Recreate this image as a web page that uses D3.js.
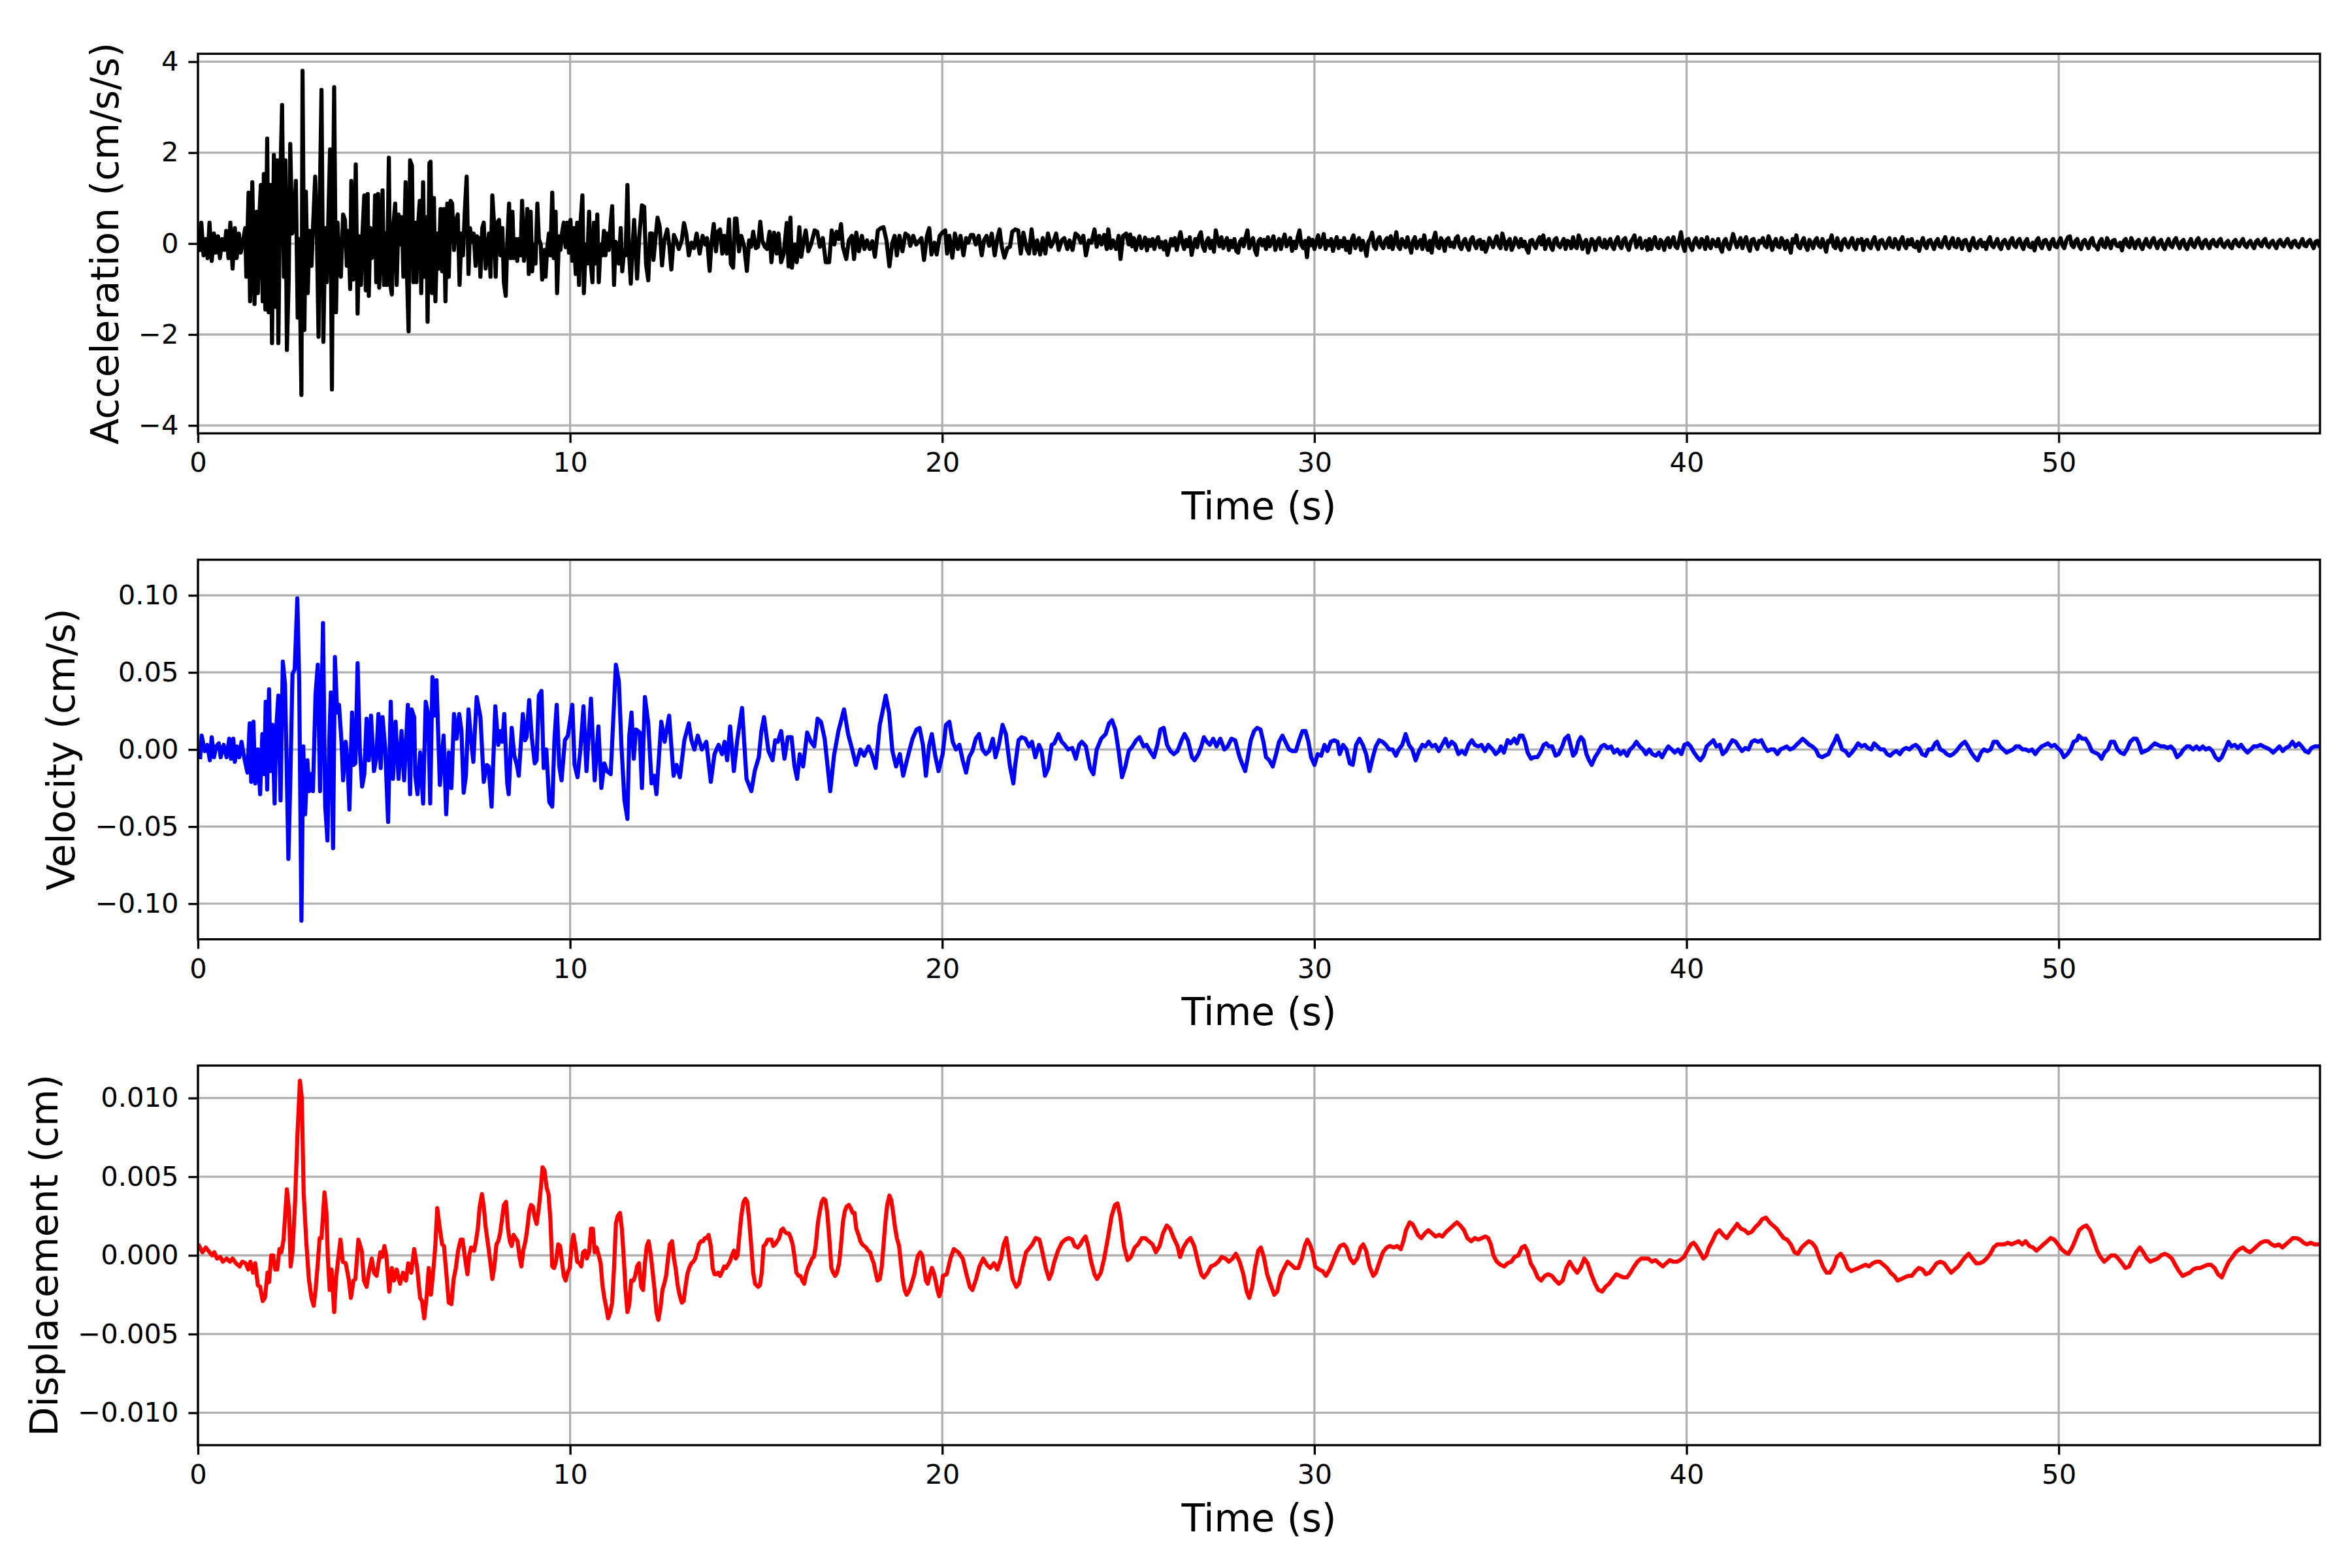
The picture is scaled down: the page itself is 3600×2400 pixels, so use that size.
<!DOCTYPE html>
<html><head><meta charset="utf-8">
<script src="https://cdn.jsdelivr.net/npm/d3@7"></script>
<style>body{margin:0;background:#fff}svg{display:block}</style>
</head><body><svg id="chart" width="3600" height="2400"></svg>
<script>
// ---------------- DATA ----------------
const timeTicks = [0, 10, 20, 30, 40, 50];
const accelTicks = [-4, -2, 0, 2, 4];
const velTicks = [-0.10, -0.05, 0, 0.05, 0.10];
const dispTicks = [-0.010, -0.005, 0, 0.005, 0.010];
const xLabel = "Time (s)";
const yLabels = ["Acceleration (cm/s/s)", "Velocity (cm/s)", "Displacement (cm)"];
const timeMax = 57.02;
const limits = [4.174, 0.1231, 0.01206];

// acceleration [t (s), a (cm/s/s)]
const accelBurst = [[0.03,-0.14],[0.09,0.46],[0.15,-0.26],[0.20,0.10],[0.26,-0.32],[0.31,0.46],[0.37,-0.38],[0.43,0.22],[0.48,-0.20],[0.54,0.16],[0.59,-0.32],[0.65,0.10],[0.71,-0.14],[0.76,0.28],[0.82,-0.32],[0.87,0.46],[0.93,-0.55],[0.99,0.34],[1.04,-0.32],[1.10,0.22],[1.15,-0.20],[1.21,0.04],
[1.27,0.34],[1.30,-0.73],[1.36,1.12],[1.40,-1.27],[1.46,1.35],[1.52,-1.33],[1.57,0.70],[1.61,-1.09],[1.66,0.76],[1.69,1.29],[1.74,-1.27],[1.77,1.53],[1.81,-1.45],[1.86,2.31],[1.90,-1.51],[1.95,1.29],[1.99,-2.19],[2.04,1.95],[2.08,-1.39],[2.13,1.83],[2.16,-2.19],[2.21,1.29],[2.26,3.05],[2.31,-0.73],[2.35,1.83],[2.39,-2.34],[2.44,-0.73],[2.48,2.19],[2.53,0.22],[2.58,0.34],[2.63,1.38],[2.68,-1.63],[2.72,0.10],[2.78,-3.33],[2.81,3.80],[2.86,-1.90],[2.90,1.14],[2.95,-1.09],[3.00,0.28],[3.05,-0.49],[3.09,0.34],[3.15,1.47],[3.19,0.46],[3.24,-2.05],[3.28,1.29],[3.32,3.38],[3.37,-2.16],[3.42,0.34],[3.46,-0.85],[3.51,0.76],[3.55,2.07],[3.60,-3.21],[3.63,1.06],[3.66,3.44],[3.71,-1.51],[3.75,0.46],[3.80,-0.55],[3.84,-0.73],[3.90,0.64],[3.95,0.52],[4.00,-0.49],[4.04,0.28],[4.09,-1.00],[4.12,1.38],[4.17,-0.79],[4.21,-0.08],[4.24,1.74],[4.29,-1.54],[4.33,0.16],[4.38,-0.91],[4.42,0.22],[4.47,1.06],[4.51,-1.03],[4.56,1.09],[4.59,-1.15],[4.63,0.34],[4.67,-0.32],[4.72,-0.26],[4.76,1.06],[4.79,-0.85],[4.84,1.09],[4.87,-0.97],[4.92,-0.02],[4.96,1.17],[5.00,-0.91],[5.04,0.22],[5.08,-0.91],[5.13,1.89],[5.16,-0.85],[5.21,-1.12],[5.25,0.40],[5.30,0.88],[5.34,-0.91],[5.39,0.64],[5.43,-0.02],[5.48,0.58],[5.52,-0.73],[5.58,1.35],[5.62,-0.79],[5.66,-1.93],[5.70,1.83],[5.75,1.71],[5.79,-0.85],[5.84,0.46],[5.87,-0.85],[5.91,0.34],[5.96,0.94],[6.00,-1.09],[6.05,1.35],[6.09,-0.73],[6.14,0.58],[6.17,-1.72],[6.22,1.77],[6.25,1.80],[6.29,-1.09],[6.34,1.00],[6.38,-1.27],[6.43,0.22],[6.47,-0.55],[6.52,0.76],[6.56,-0.61],[6.61,0.76],[6.65,-1.27],[6.70,0.88],[6.74,-0.73],[6.79,0.94],[6.83,0.88],[6.88,-0.14],[6.92,0.46],[6.98,0.64],[7.03,-0.91],[7.08,0.22],[7.12,-0.26],[7.17,0.70],[7.22,1.47],[7.27,-0.67],[7.31,0.34],[7.37,0.04],[7.41,0.22],[7.46,-0.49],[7.50,0.16],[7.55,0.10],[7.59,-0.73],[7.64,0.34],[7.68,0.46],[7.73,-0.55],[7.77,-0.20],[7.82,0.22],[7.86,-0.73],[7.91,1.06],[7.95,0.52],[8.00,-0.73],[8.04,0.46],[8.09,0.52],[8.13,-0.26],[8.18,0.34],[8.22,-0.85],[8.27,-1.15],[8.31,-0.02],[8.36,0.88],[8.40,-0.32],[8.45,0.70],[8.49,-0.32],[8.54,0.10],[8.58,-0.38],[8.62,0.10],[8.67,-0.26],[8.71,0.94],[8.76,-0.38],[8.80,-0.02],[8.85,0.76],[8.89,-0.67],[8.94,0.70],[8.98,-0.61],[9.03,-0.02],[9.07,-0.44],[9.12,0.88],[9.16,0.10],[9.21,-0.02],[9.25,-0.79],[9.30,-0.14],[9.34,-0.73],[9.38,-0.14],[9.43,0.22],[9.47,-0.26],[9.52,1.12],[9.56,-0.32],[9.61,0.70],[9.65,-1.09],[9.70,0.16],[9.74,-0.14],[9.79,0.28],[9.83,0.46],[9.88,-0.08],[9.92,0.46],[9.97,-0.20],[10.01,0.52],[10.06,-0.38],[10.10,0.34],[10.15,-0.67],[10.19,0.46],[10.24,-0.91],[10.28,0.46],[10.33,1.06],[10.37,-1.09],[10.42,-0.02],[10.46,-0.44],[10.51,0.70],[10.55,-0.38],[10.60,-0.85],[10.64,0.46],[10.68,-0.44],[10.73,0.64],[10.77,-0.85],[10.82,-0.02],[10.86,-0.26],[10.91,0.28],[10.95,-0.26],[11.00,0.22],[11.04,-0.14],[11.09,0.46],[11.13,0.82],[11.18,-0.91],[11.22,0.04],[11.27,-0.02],[11.31,-0.44],[11.36,0.34],[11.40,-0.61],[11.45,-0.14],[11.49,-0.26],[11.54,1.29],[11.58,-0.14],[11.63,-0.88],[11.67,-0.20],[11.72,0.52]];

const accelCoda = [[11.80,-0.77],[11.86,0.17],[11.93,0.84],[11.99,0.81],[12.04,-0.45],[12.10,-0.81],[12.15,0.22],[12.20,0.22],[12.24,-0.36],[12.30,0.17],[12.35,0.57],[12.41,0.36],[12.47,-0.48],[12.53,0.07],[12.61,0.31],[12.67,-0.07],[12.72,-0.57],[12.79,0.19],[12.85,0.07],[12.92,-0.12],[13.00,0.07],[13.06,0.45],[13.12,0.22],[13.19,-0.26],[13.26,0.02],[13.33,-0.10],[13.40,0.22],[13.48,-0.22],[13.56,0.17],[13.63,-0.02],[13.68,0.12],[13.75,-0.60],[13.80,0.02],[13.86,0.43],[13.92,-0.17],[13.97,0.26],[14.03,0.31],[14.09,-0.22],[14.14,0.17],[14.21,-0.22],[14.27,0.53],[14.32,-0.45],[14.38,-0.53],[14.43,0.55],[14.47,0.55],[14.54,-0.17],[14.60,0.17],[14.68,-0.07],[14.75,-0.60],[14.81,0.07],[14.86,-0.07],[14.92,0.26],[14.99,-0.10],[15.05,-0.07],[15.11,0.48],[15.16,0.07],[15.23,-0.07],[15.29,-0.12],[15.36,0.26],[15.41,-0.41],[15.48,0.24],[15.55,-0.22],[15.60,0.22],[15.67,-0.41],[15.74,-0.22],[15.82,0.45],[15.87,-0.50],[15.92,0.57],[15.96,-0.53],[16.03,-0.02],[16.09,-0.41],[16.16,0.36],[16.21,-0.29],[16.27,0.02],[16.33,0.29],[16.40,-0.17],[16.48,0.00],[16.57,0.29],[16.64,0.26],[16.71,-0.07],[16.79,0.12],[16.87,-0.41],[16.96,-0.41],[17.03,0.29],[17.10,-0.02],[17.16,0.26],[17.22,0.10],[17.28,0.43],[17.33,-0.07],[17.42,-0.34],[17.49,0.07],[17.57,0.17],[17.63,-0.34],[17.69,0.24],[17.76,-0.17],[17.84,0.17],[17.91,-0.12],[17.98,0.07],[18.05,-0.12],[18.12,0.05],[18.19,-0.29],[18.27,0.29],[18.35,0.34],[18.42,0.36],[18.50,0.07],[18.58,-0.50],[18.66,0.02],[18.72,0.17],[18.78,-0.26],[18.85,0.17],[18.93,-0.17],[19.01,0.22],[19.09,0.17],[19.14,-0.05],[19.22,0.17],[19.30,-0.02],[19.37,0.05],[19.44,0.12],[19.51,-0.36],[19.59,0.17],[19.65,0.34],[19.71,-0.24],[19.79,0.02],[19.85,-0.24],[19.93,0.17],[20.00,0.24],[20.08,0.29],[20.13,-0.22],[20.19,0.17],[20.27,-0.31],[20.34,0.22],[20.42,-0.12],[20.49,0.17],[20.57,-0.26],[20.64,0.12],[20.70,0.02],[20.77,0.19],[20.83,0.19],[20.90,-0.02],[20.98,0.17],[21.06,-0.26],[21.12,0.07],[21.19,0.17],[21.26,-0.05],[21.33,0.22],[21.41,-0.26],[21.48,0.12],[21.54,0.31],[21.60,-0.07],[21.67,-0.31],[21.75,-0.10],[21.82,-0.07],[21.88,0.26],[21.96,0.31],[22.04,0.29],[22.11,-0.22],[22.18,0.24],[22.27,-0.12],[22.33,-0.22],[22.40,0.31],[22.48,-0.22],[22.55,0.07],[22.63,-0.24],[22.70,0.12],[22.77,-0.22],[22.84,0.22],[22.92,-0.07],[22.99,0.05],[23.06,0.22],[23.13,-0.14],[23.21,0.07],[23.28,0.12],[23.36,-0.12],[23.42,0.07],[23.50,-0.14],[23.58,0.22],[23.65,0.17],[23.72,0.02],[23.79,0.17],[23.86,-0.26],[23.94,0.07],[24.01,0.02],[24.09,0.31],[24.15,-0.07],[24.22,0.17],[24.28,-0.02],[24.35,0.19],[24.42,-0.12],[24.46,0.31],[24.53,-0.10],[24.59,0.07],[24.67,-0.12],[24.74,0.17],[24.79,-0.34],[24.86,0.17],[24.94,0.22],[25.01,-0.02]];

// acceleration tail, sampled every 0.05 s from 25.05 s (one row per second)
const accelTailStart = 25.05, accelTailStep = 0.05;
const accelTail = [
0.20,-0.06,0.12,-0.14,0.04,0.16,-0.10,-0.02,0.13,-0.15,0.08,-0.05,0.10,-0.12,0.06,0.14,-0.08,0.03,-0.13,0.05,
-0.25,-0.08,0.10,-0.04,0.12,-0.14,0.06,0.25,0.02,-0.12,0.08,-0.06,0.14,-0.25,-0.04,0.10,-0.08,0.16,0.25,-0.06,
-0.16,0.04,0.12,-0.10,0.06,-0.18,0.29,0.08,-0.06,0.14,-0.10,0.02,0.12,-0.14,0.06,-0.08,0.10,-0.16,-0.20,0.04,
0.10,-0.06,0.14,0.29,-0.10,0.04,0.12,-0.14,-0.25,0.06,0.10,-0.04,0.08,-0.12,0.14,-0.06,0.04,0.16,-0.14,0.02,
0.10,-0.12,0.06,0.20,-0.06,0.02,0.12,-0.16,0.04,-0.10,0.14,0.29,-0.04,-0.10,0.06,-0.30,0.12,-0.04,0.08,-0.12,
0.04,0.18,-0.08,0.02,0.21,-0.12,0.06,-0.04,0.10,-0.16,0.02,0.14,-0.10,0.06,-0.06,0.12,-0.14,0.04,-0.20,0.08,
0.18,-0.10,0.04,0.12,-0.14,0.06,-0.08,-0.27,0.04,0.10,0.24,-0.06,-0.12,0.08,0.14,-0.04,-0.10,0.06,0.12,-0.08,
0.16,-0.12,0.04,0.25,-0.06,-0.12,0.10,0.02,-0.08,0.14,-0.04,-0.20,0.06,0.14,-0.10,0.02,0.08,-0.12,0.18,-0.04,
-0.14,0.06,-0.20,0.10,0.24,-0.06,-0.10,0.12,0.04,-0.16,0.08,0.12,-0.06,0.02,-0.08,0.12,0.16,-0.06,-0.12,0.04,
0.10,-0.06,-0.14,0.08,0.14,-0.02,-0.10,0.06,0.08,-0.12,0.04,-0.18,-0.06,0.12,0.02,-0.08,0.06,0.16,-0.04,-0.10,
0.22,0.06,-0.12,0.04,0.10,-0.14,-0.04,0.12,0.02,-0.08,0.10,-0.06,0.04,-0.12,-0.20,0.06,0.08,-0.04,-0.10,0.06,
0.14,-0.02,0.18,-0.12,0.04,0.10,-0.06,-0.14,0.08,0.12,-0.04,-0.08,0.02,0.10,-0.12,0.06,0.04,-0.10,0.14,-0.06,
-0.10,0.18,0.06,-0.12,0.02,0.08,-0.20,-0.06,0.10,0.04,-0.14,0.06,0.12,-0.04,-0.08,0.08,-0.10,0.02,0.10,-0.06,
-0.12,0.06,0.14,-0.04,-0.10,0.08,0.12,-0.06,-0.14,0.04,0.10,0.18,-0.08,0.02,0.12,-0.10,-0.04,0.06,-0.14,0.10,
-0.12,0.04,0.14,-0.06,-0.10,0.08,0.02,-0.14,0.06,0.12,-0.08,0.04,0.14,-0.06,-0.10,0.06,0.25,-0.04,-0.16,0.08,
0.10,-0.06,-0.14,0.04,0.12,-0.02,-0.08,0.10,0.06,-0.12,0.14,-0.04,-0.10,0.08,0.02,-0.06,0.10,-0.08,-0.18,0.04,
0.10,-0.06,-0.12,0.04,0.21,0.06,-0.08,0.02,0.12,-0.10,0.04,0.14,-0.06,-0.16,0.08,0.10,-0.04,-0.12,0.06,0.02,
0.12,-0.04,-0.08,0.16,0.06,-0.14,0.02,0.10,-0.06,-0.08,0.12,0.04,-0.12,0.06,-0.04,-0.20,0.10,0.02,0.18,-0.06,
-0.10,0.04,0.12,-0.06,-0.14,0.08,0.02,-0.10,0.06,0.12,-0.04,-0.08,0.10,-0.02,-0.18,0.06,0.04,0.18,-0.06,-0.10,
0.12,-0.04,-0.14,0.06,0.10,-0.02,-0.08,0.04,0.12,-0.06,-0.12,0.08,0.02,0.10,-0.14,0.04,0.08,-0.06,-0.10,0.06,
0.14,-0.04,-0.12,0.06,0.08,-0.02,-0.10,0.04,0.12,-0.06,-0.08,0.10,0.02,-0.12,0.06,0.14,-0.04,-0.10,0.08,-0.02,
0.10,-0.06,-0.08,0.04,-0.16,0.02,0.12,-0.04,-0.10,0.06,0.08,-0.02,-0.12,0.04,0.10,-0.06,-0.08,0.06,0.14,-0.04,
-0.10,0.04,0.12,-0.06,-0.08,0.10,0.02,-0.12,0.06,0.08,-0.04,-0.15,0.02,0.12,-0.06,-0.10,0.04,0.08,-0.06,0.02,
-0.12,0.06,0.14,-0.04,-0.08,0.02,0.10,-0.06,-0.12,0.04,0.08,-0.02,-0.10,0.06,0.12,-0.04,-0.08,0.06,0.10,-0.04,
-0.12,0.04,0.10,-0.06,-0.08,0.02,-0.15,0.06,0.12,-0.04,-0.10,0.06,0.08,-0.02,-0.12,0.04,0.10,-0.06,-0.08,0.04,
0.12,-0.04,-0.10,0.06,0.14,0.16,-0.04,-0.08,0.06,0.10,-0.06,-0.12,0.04,0.08,-0.02,-0.10,0.06,0.12,-0.04,-0.06,
-0.13,0.04,0.10,-0.06,-0.08,0.12,0.02,-0.10,0.06,0.08,-0.04,-0.06,0.02,-0.15,0.06,0.10,-0.04,-0.08,0.12,0.02,
-0.10,0.04,0.08,-0.06,-0.12,0.02,0.10,-0.04,-0.08,0.06,0.12,-0.02,-0.10,0.04,0.08,-0.06,-0.12,0.02,0.10,-0.04,
-0.08,0.06,0.12,-0.02,-0.10,0.04,0.08,-0.06,-0.12,0.02,0.10,-0.04,-0.08,0.06,0.12,-0.02,-0.10,0.04,0.08,-0.04,
-0.10,0.04,0.08,-0.02,-0.06,0.06,0.10,-0.04,-0.08,0.02,0.06,-0.06,-0.10,0.04,0.08,-0.02,-0.06,0.04,0.10,-0.04,
-0.08,0.02,0.06,-0.04,-0.10,0.04,0.08,-0.02,-0.06,0.06,0.10,-0.04,-0.08,0.02,0.06,-0.04,-0.10,0.04,0.08,-0.02,
-0.06,0.04,0.10,-0.02,-0.08,0.04,0.06,-0.04,-0.08,0.02,0.10,-0.04,-0.06,0.04,0.08,-0.02,-0.10,0.04,0.06,-0.04];

// velocity [t (s), v (cm/s)]
const velEarly = [[0.06,-0.005],[0.10,0.009],[0.18,-0.001],[0.25,0.003],[0.32,-0.007],[0.37,0.008],[0.43,-0.005],[0.49,0.002],[0.56,0.004],[0.61,-0.005],[0.69,0.003],[0.77,-0.005],[0.84,0.007],[0.89,-0.006],[0.95,0.007],[0.99,-0.008],[1.05,0.002],[1.11,-0.005],[1.17,0.005],[1.25,-0.006],[1.33,-0.015],[1.39,0.017],[1.43,-0.021],[1.49,0.018],[1.54,-0.022],[1.61,0.000],[1.67,-0.029],[1.73,0.010],[1.78,-0.016],[1.82,0.031],[1.86,-0.026],[1.91,0.039],[1.95,-0.014],[2.00,0.016],[2.06,-0.035],[2.10,0.012],[2.16,0.035],[2.22,-0.033],[2.28,0.057],[2.34,0.042],[2.38,-0.006],[2.43,-0.071],[2.48,-0.022],[2.54,0.049],[2.60,0.052],[2.67,0.098],[2.72,0.044],[2.78,-0.111],[2.83,0.002],[2.88,-0.042],[2.94,-0.007],[2.99,-0.027],[3.04,-0.016],[3.09,-0.027],[3.16,0.036],[3.22,0.055],[3.28,-0.027],[3.36,0.082],[3.42,-0.037],[3.48,-0.059],[3.53,0.007],[3.57,0.037],[3.63,-0.064],[3.68,0.060],[3.74,0.024],[3.79,0.029],[3.86,0.004],[3.90,-0.020],[3.97,0.005],[4.02,-0.009],[4.07,-0.039],[4.14,0.024],[4.18,-0.010],[4.23,-0.009],[4.29,0.056],[4.35,0.000],[4.41,-0.024],[4.47,-0.016],[4.53,0.020],[4.59,-0.007],[4.65,0.022],[4.73,-0.014],[4.79,-0.006],[4.85,0.023],[4.91,-0.012],[4.96,0.021],[5.03,0.001],[5.11,-0.047],[5.18,0.031],[5.24,-0.019],[5.31,0.018],[5.39,-0.019],[5.47,0.012],[5.54,-0.020],[5.64,0.029],[5.70,-0.029],[5.74,0.026],[5.81,0.021],[5.84,-0.017],[5.90,-0.029],[5.97,-0.002],[6.05,-0.035],[6.12,0.031],[6.19,0.022],[6.24,-0.035],[6.30,0.047],[6.36,0.022],[6.41,0.045],[6.50,-0.023],[6.60,0.009],[6.67,-0.042],[6.74,-0.002],[6.81,-0.025],[6.88,0.023],[6.95,0.007],[7.02,0.023],[7.08,0.012],[7.14,-0.028],[7.20,-0.017],[7.27,0.026],[7.33,0.008],[7.40,-0.008],[7.43,0.007],[7.49,0.034],[7.59,0.021],[7.68,-0.021],[7.76,-0.010],[7.81,-0.011],[7.89,-0.037],[7.99,0.028],[8.07,0.003],[8.13,0.012],[8.18,0.005],[8.23,0.023],[8.31,-0.022],[8.35,-0.029],[8.43,0.014],[8.50,-0.004],[8.57,-0.010],[8.62,-0.017],[8.73,0.023],[8.79,0.006],[8.83,0.008],[8.90,0.032],[8.97,0.008],[9.05,-0.009],[9.10,-0.007],[9.16,0.035],[9.23,0.038],[9.29,-0.012],[9.36,0.000],[9.44,-0.034],[9.52,-0.037],[9.58,0.007],[9.64,0.029],[9.71,-0.011],[9.77,-0.020],[9.86,0.006],[9.94,0.009],[10.06,0.029],[10.12,-0.010],[10.20,-0.018],[10.28,0.001],[10.36,0.028],[10.44,-0.014],[10.56,0.033],[10.66,-0.020],[10.76,0.015],[10.84,-0.025],[10.92,-0.009],[10.99,-0.014],[11.09,-0.016],[11.23,0.055],[11.31,0.044],[11.38,0.002],[11.46,-0.033],[11.54,-0.045],[11.59,0.009],[11.65,0.024],[11.71,-0.006],[11.77,0.013],[11.87,0.011],[11.93,-0.025]];

const velMid = [[12.01,0.034],[12.10,0.017],[12.19,-0.022],[12.26,-0.017],[12.32,-0.029],[12.45,0.018],[12.54,0.005],[12.66,0.022],[12.78,-0.017],[12.86,-0.010],[12.95,-0.018],[13.07,0.006],[13.19,0.017],[13.26,0.006],[13.34,0.000],[13.43,0.009],[13.54,0.000],[13.66,0.005],[13.78,-0.021],[13.88,-0.003],[13.99,0.003],[14.08,-0.003],[14.15,0.005],[14.22,-0.007],[14.30,0.015],[14.40,-0.014],[14.49,0.006],[14.62,0.027],[14.74,-0.019],[14.87,-0.027],[14.96,-0.014],[15.07,-0.005],[15.14,0.012],[15.21,0.021],[15.33,-0.001],[15.44,-0.007],[15.51,0.006],[15.58,0.005],[15.67,0.012],[15.76,-0.006],[15.85,0.008],[15.95,0.008],[16.03,-0.011],[16.10,-0.019],[16.17,-0.003],[16.26,-0.011],[16.37,0.011],[16.47,0.005],[16.56,0.002],[16.65,0.020],[16.74,0.018],[16.84,0.007],[16.99,-0.027],[17.09,-0.004],[17.21,0.012],[17.36,0.026],[17.47,0.010],[17.58,0.000],[17.68,-0.010],[17.80,0.000],[17.90,-0.004],[18.02,0.002],[18.12,-0.004],[18.21,-0.012],[18.32,0.016],[18.39,0.024],[18.48,0.035],[18.57,0.024],[18.66,-0.001],[18.76,-0.011],[18.86,-0.003],[18.95,-0.017],[19.07,-0.005],[19.20,0.007],[19.31,0.013],[19.39,0.014],[19.48,0.003],[19.56,-0.017],[19.65,0.003],[19.72,0.010],[19.81,-0.004],[19.90,-0.014],[20.01,-0.003],[20.10,0.016],[20.19,0.018],[20.28,0.005],[20.37,0.000],[20.46,0.003],[20.55,-0.007],[20.64,-0.015],[20.72,-0.005],[20.81,-0.001],[20.90,0.007],[20.99,0.010],[21.08,0.000],[21.17,-0.003],[21.26,-0.001],[21.36,0.007],[21.43,-0.005],[21.52,0.003],[21.62,0.016],[21.71,0.010],[21.82,-0.011],[21.91,-0.022],[21.96,-0.010],[22.05,0.006],[22.13,0.008],[22.23,0.007],[22.33,0.002],[22.41,0.005],[22.50,-0.005],[22.60,0.003],[22.67,-0.001],[22.76,-0.017],[22.85,-0.012],[22.94,0.003],[23.01,0.004],[23.12,0.010],[23.21,0.005],[23.29,0.003],[23.38,0.000],[23.49,0.001],[23.59,-0.006],[23.68,0.003],[23.75,0.005],[23.86,0.002],[23.97,-0.012],[24.06,-0.016],[24.15,0.000],[24.27,0.007],[24.39,0.010],[24.48,0.017],[24.56,0.019],[24.65,0.013],[24.74,-0.001],[24.83,-0.018],[24.92,-0.011],[25.01,-0.001],[25.11,0.002],[25.21,0.006],[25.30,0.008],[25.41,0.002],[25.49,0.003],[25.58,-0.001],[25.69,-0.005],[25.78,0.003],[25.86,0.013],[25.95,0.014],[26.04,0.003],[26.13,-0.001],[26.22,-0.003],[26.32,-0.001],[26.43,0.006],[26.51,0.010],[26.60,0.006],[26.71,-0.005],[26.78,-0.007],[26.88,-0.003],[26.96,0.002],[27.03,0.008],[27.11,0.005],[27.19,0.003],[27.28,0.007],[27.37,0.002],[27.47,0.007],[27.58,0.000],[27.67,0.002],[27.77,0.007],[27.87,0.006],[27.99,-0.005],[28.07,-0.010],[28.14,-0.014],[28.21,-0.005],[28.29,0.006],[28.38,0.012],[28.46,0.014],[28.55,0.013],[28.63,0.005],[28.70,-0.005],[28.79,-0.007],[28.88,-0.011],[28.97,-0.003],[29.05,0.005],[29.14,0.009],[29.22,0.005],[29.32,0.000],[29.41,-0.001],[29.50,-0.001],[29.59,0.006],[29.68,0.012],[29.76,0.012],[29.84,0.005],[29.91,-0.005],[30.00,-0.010],[30.09,-0.003],[30.18,-0.004],[30.27,0.003],[30.35,-0.001],[30.44,0.005],[30.53,0.006],[30.62,0.005],[30.68,-0.003],[30.77,0.003],[30.86,0.000],[30.95,-0.009],[31.03,-0.010],[31.12,0.003],[31.21,0.007],[31.30,0.003],[31.39,-0.003],[31.48,-0.014],[31.57,-0.005],[31.65,0.002],[31.74,0.006],[31.83,0.005],[31.92,0.003],[32.01,0.000],[32.10,0.000],[32.19,-0.004],[32.27,0.000],[32.36,0.003],[32.45,0.010],[32.54,0.003],[32.63,0.000],[32.72,-0.007],[32.81,-0.001],[32.90,0.003],[32.98,0.002],[33.07,0.005],[33.16,0.002],[33.25,0.003],[33.34,-0.001],[33.43,0.003],[33.52,0.007],[33.60,0.002],[33.69,0.005],[33.78,0.003],[33.87,-0.003],[33.96,-0.001],[34.05,-0.003],[34.14,0.003],[34.23,0.006],[34.31,0.003],[34.40,0.002],[34.49,0.003],[34.58,-0.001],[34.67,0.003],[34.79,0.000],[34.87,-0.003],[34.96,-0.001]];

const velLate = [[35.01,0.002],[35.09,-0.002],[35.19,0.006],[35.27,0.004],[35.37,0.007],[35.44,0.004],[35.52,0.009],[35.59,0.009],[35.66,0.005],[35.73,-0.002],[35.82,-0.006],[35.90,-0.005],[35.99,-0.005],[36.07,-0.002],[36.16,0.003],[36.23,0.004],[36.30,0.002],[36.39,0.002],[36.48,-0.004],[36.56,-0.003],[36.66,0.002],[36.73,0.007],[36.82,0.009],[36.87,0.004],[36.95,-0.004],[37.02,-0.002],[37.09,0.005],[37.16,0.008],[37.23,0.006],[37.31,-0.003],[37.38,-0.007],[37.45,-0.010],[37.54,-0.005],[37.62,-0.002],[37.71,0.002],[37.79,0.003],[37.88,0.001],[37.97,0.002],[38.05,-0.002],[38.14,0.000],[38.22,-0.003],[38.31,-0.001],[38.40,-0.004],[38.48,0.000],[38.57,0.002],[38.65,0.005],[38.74,0.002],[38.83,0.000],[38.91,-0.003],[39.00,0.000],[39.08,-0.003],[39.17,-0.004],[39.26,-0.002],[39.34,-0.005],[39.43,-0.001],[39.51,0.002],[39.60,0.000],[39.68,-0.002],[39.77,0.000],[39.86,-0.003],[39.94,0.003],[40.03,0.004],[40.11,0.002],[40.20,-0.002],[40.29,-0.005],[40.37,-0.007],[40.46,-0.004],[40.54,0.002],[40.63,0.004],[40.72,0.006],[40.80,0.002],[40.89,0.003],[40.97,-0.003],[41.06,-0.001],[41.15,0.003],[41.23,0.006],[41.32,0.005],[41.40,0.002],[41.49,-0.001],[41.58,0.001],[41.66,0.000],[41.75,0.005],[41.83,0.006],[41.92,0.005],[42.01,0.006],[42.09,0.002],[42.18,-0.001],[42.26,0.000],[42.35,0.000],[42.44,-0.003],[42.52,0.000],[42.61,0.001],[42.69,0.002],[42.78,0.000],[42.87,0.001],[42.95,0.003],[43.04,0.005],[43.12,0.007],[43.21,0.005],[43.30,0.003],[43.38,0.002],[43.47,0.000],[43.55,-0.004],[43.64,-0.005],[43.72,-0.004],[43.81,-0.003],[43.90,0.002],[43.97,0.005],[44.04,0.009],[44.11,0.005],[44.18,0.000],[44.27,-0.001],[44.36,-0.004],[44.44,-0.002],[44.53,0.001],[44.61,0.004],[44.70,0.002],[44.79,0.003],[44.87,0.001],[44.96,0.000],[45.04,0.004],[45.13,0.002],[45.21,0.000],[45.30,0.000],[45.39,-0.003],[45.47,-0.004],[45.56,-0.002],[45.64,-0.001],[45.73,-0.003],[45.82,0.000],[45.90,0.001],[45.99,0.000],[46.07,0.002],[46.16,0.003],[46.25,0.001],[46.33,-0.003],[46.42,-0.004],[46.50,0.000],[46.59,0.000],[46.68,0.004],[46.73,0.005],[46.82,0.000],[46.91,-0.001],[46.99,-0.003],[47.08,-0.004],[47.16,-0.003],[47.25,-0.001],[47.34,0.002],[47.42,0.004],[47.48,0.005],[47.56,0.002],[47.65,-0.002],[47.74,-0.005],[47.82,-0.007],[47.91,-0.002],[47.99,0.000],[48.08,-0.001],[48.17,0.000],[48.25,0.005],[48.34,0.005],[48.42,0.002],[48.51,0.000],[48.60,-0.002],[48.68,-0.001],[48.77,0.000],[48.85,0.002],[48.94,0.002],[49.03,0.000],[49.11,0.000],[49.20,-0.001],[49.28,0.000],[49.37,-0.003],[49.46,0.000],[49.54,0.002],[49.63,0.003],[49.71,0.004],[49.80,0.002],[49.89,0.003],[49.97,0.001],[50.06,-0.001],[50.14,-0.005],[50.23,-0.003],[50.32,0.000],[50.40,0.005],[50.49,0.006],[50.54,0.009],[50.63,0.007],[50.72,0.007],[50.80,0.004],[50.89,-0.001],[50.97,-0.002],[51.06,-0.003],[51.15,-0.006],[51.23,-0.002],[51.32,0.000],[51.40,0.005],[51.49,0.005],[51.58,0.000],[51.66,-0.002],[51.75,-0.003],[51.83,0.000],[51.92,0.005],[52.01,0.007],[52.09,0.007],[52.15,0.004],[52.23,-0.002],[52.32,-0.001],[52.41,0.000],[52.49,0.002],[52.58,0.004],[52.66,0.003],[52.75,0.002],[52.84,0.002],[52.92,0.001],[53.01,0.002],[53.09,0.000],[53.18,-0.005],[53.27,-0.003],[53.35,0.000],[53.44,0.002],[53.52,0.002],[53.61,0.000],[53.70,0.002],[53.78,0.000],[53.87,0.002],[53.95,0.000],[54.04,0.001],[54.13,-0.001],[54.21,-0.005],[54.30,-0.007],[54.38,-0.005],[54.47,0.000],[54.56,0.005],[54.64,0.002],[54.73,0.003],[54.81,0.001],[54.90,0.003],[54.99,0.000],[55.07,-0.002],[55.16,0.000],[55.24,0.002],[55.33,0.002],[55.42,0.003],[55.50,0.002],[55.59,0.001],[55.67,0.000],[55.76,-0.002],[55.85,0.000],[55.93,0.002],[56.02,-0.001],[56.10,0.001],[56.19,0.002],[56.28,0.005],[56.36,0.002],[56.45,0.004],[56.53,0.002],[56.62,-0.001],[56.71,-0.002],[56.79,0.001],[56.88,0.002],[56.96,0.002]];

// displacement [t (s), d (cm)]
const dispEarly = [[0.03,0.0006],[0.12,0.0002],[0.21,0.0005],[0.31,0.0002],[0.38,0.0000],[0.44,0.0002],[0.51,-0.0002],[0.60,-0.0001],[0.67,-0.0004],[0.77,-0.0002],[0.86,-0.0004],[0.93,-0.0002],[1.02,-0.0005],[1.12,-0.0007],[1.19,-0.0004],[1.28,-0.0005],[1.35,-0.0009],[1.41,-0.0004],[1.48,-0.0011],[1.54,-0.0005],[1.61,-0.0019],[1.67,-0.0020],[1.74,-0.0029],[1.80,-0.0027],[1.87,-0.0011],[1.91,-0.0017],[1.97,0.0000],[2.02,0.0000],[2.08,-0.0009],[2.13,-0.0009],[2.19,0.0004],[2.24,0.0002],[2.30,0.0010],[2.39,0.0042],[2.45,0.0028],[2.49,-0.0007],[2.54,0.0002],[2.61,0.0034],[2.67,0.0075],[2.74,0.0111],[2.79,0.0100],[2.84,0.0040],[2.91,0.0009],[2.98,-0.0015],[3.05,-0.0027],[3.11,-0.0032],[3.16,-0.0022],[3.22,-0.0005],[3.27,0.0011],[3.32,0.0011],[3.40,0.0040],[3.45,0.0028],[3.49,-0.0001],[3.54,-0.0022],[3.59,-0.0009],[3.66,-0.0036],[3.71,-0.0015],[3.76,-0.0004],[3.83,0.0010],[3.89,-0.0004],[3.97,-0.0005],[4.05,-0.0015],[4.11,-0.0027],[4.18,-0.0016],[4.23,-0.0015],[4.31,0.0010],[4.40,0.0003],[4.46,-0.0016],[4.53,-0.0020],[4.59,-0.0011],[4.67,-0.0002],[4.73,-0.0011],[4.80,-0.0013],[4.85,-0.0005],[4.90,0.0002],[4.95,-0.0001],[5.01,0.0006],[5.06,0.0000],[5.14,-0.0023],[5.21,-0.0008],[5.27,-0.0016],[5.34,-0.0009],[5.43,-0.0018],[5.51,-0.0011],[5.59,-0.0016],[5.65,-0.0005],[5.73,-0.0011],[5.81,0.0004],[5.89,-0.0008],[5.97,-0.0027],[6.02,-0.0029],[6.08,-0.0040],[6.15,-0.0025],[6.20,-0.0008],[6.26,-0.0025],[6.33,-0.0008],[6.38,0.0007],[6.43,0.0030],[6.50,0.0017],[6.56,0.0007],[6.61,0.0006],[6.68,-0.0013],[6.74,-0.0030],[6.81,-0.0031],[6.87,-0.0015],[6.93,-0.0008],[6.99,0.0003],[7.06,0.0010],[7.11,0.0010],[7.15,0.0003],[7.19,-0.0004],[7.24,-0.0012],[7.29,0.0000],[7.34,0.0005],[7.42,0.0003],[7.47,0.0009],[7.52,0.0017],[7.57,0.0031],[7.63,0.0039],[7.68,0.0031],[7.73,0.0018],[7.80,0.0006],[7.86,-0.0005],[7.91,-0.0015],[7.96,-0.0008],[8.02,0.0007],[8.07,0.0009],[8.12,0.0014],[8.17,0.0023],[8.22,0.0032],[8.28,0.0034],[8.33,0.0017],[8.38,0.0009],[8.43,0.0006],[8.48,0.0013],[8.53,0.0011],[8.59,0.0009],[8.64,-0.0001],[8.69,-0.0007],[8.74,0.0003],[8.80,0.0009],[8.85,0.0017],[8.90,0.0028],[8.95,0.0032],[9.00,0.0031],[9.05,0.0024],[9.10,0.0020],[9.16,0.0030],[9.21,0.0042],[9.26,0.0056],[9.31,0.0054],[9.37,0.0043],[9.42,0.0039],[9.47,0.0023],[9.52,-0.0007],[9.57,-0.0008],[9.62,-0.0004],[9.68,0.0007],[9.73,0.0006],[9.78,-0.0004],[9.83,-0.0013],[9.88,-0.0016],[9.93,-0.0011],[9.99,-0.0008],[10.04,0.0006],[10.09,0.0013],[10.14,0.0006],[10.19,-0.0004],[10.25,-0.0005],[10.30,-0.0007],[10.35,0.0002],[10.40,0.0003],[10.45,-0.0002],[10.51,0.0002],[10.56,0.0017],[10.61,0.0017],[10.66,0.0002],[10.71,0.0005],[10.77,0.0000],[10.82,-0.0005],[10.87,-0.0019],[10.92,-0.0027],[10.97,-0.0033],[11.02,-0.0040],[11.08,-0.0036],[11.13,-0.0030],[11.18,-0.0008],[11.23,0.0020],[11.28,0.0025],[11.34,0.0027],[11.39,0.0017],[11.44,-0.0001],[11.49,-0.0022],[11.54,-0.0036],[11.59,-0.0031],[11.64,-0.0016],[11.70,-0.0016],[11.75,-0.0013],[11.80,-0.0007],[11.85,-0.0005],[11.91,-0.0020],[11.96,-0.0022],[12.01,-0.0005],[12.06,0.0006],[12.11,0.0009],[12.17,0.0000],[12.22,-0.0011],[12.27,-0.0022],[12.32,-0.0036],[12.37,-0.0041],[12.43,-0.0033],[12.48,-0.0022],[12.53,-0.0018],[12.58,-0.0013],[12.63,-0.0002],[12.68,0.0007],[12.74,0.0009],[12.79,-0.0002],[12.84,-0.0009],[12.89,-0.0019],[12.94,-0.0025],[13.00,-0.0030],[13.05,-0.0029],[13.10,-0.0020],[13.15,-0.0012],[13.20,-0.0008],[13.26,-0.0005],[13.31,-0.0004],[13.36,-0.0002],[13.41,0.0002],[13.46,0.0007],[13.52,0.0009],[13.57,0.0009],[13.62,0.0011],[13.67,0.0011],[13.72,0.0013],[13.78,0.0006],[13.83,-0.0008],[13.88,-0.0012],[13.93,-0.0012],[13.98,-0.0011],[14.03,-0.0013],[14.09,-0.0010],[14.14,-0.0007],[14.19,-0.0008],[14.24,-0.0006],[14.29,-0.0004],[14.35,0.0000],[14.40,0.0003],[14.45,-0.0002],[14.50,0.0000],[14.55,0.0013],[14.60,0.0025],[14.66,0.0034],[14.71,0.0036],[14.76,0.0034],[14.81,0.0023],[14.87,0.0005],[14.92,-0.0011],[14.97,-0.0018],[15.05,-0.0020],[15.10,-0.0019],[15.15,-0.0011],[15.20,0.0006],[15.25,0.0007],[15.31,0.0010],[15.36,0.0010],[15.41,0.0010],[15.46,0.0006],[15.51,0.0007],[15.56,0.0009],[15.62,0.0011],[15.67,0.0016],[15.72,0.0017],[15.77,0.0015],[15.82,0.0014],[15.88,0.0014],[15.93,0.0011],[15.98,0.0007],[16.03,-0.0001],[16.08,-0.0011],[16.14,-0.0013],[16.19,-0.0013],[16.24,-0.0016],[16.29,-0.0018],[16.34,-0.0012],[16.39,-0.0008],[16.45,-0.0005],[16.50,-0.0002],[16.55,-0.0001],[16.60,0.0006],[16.66,0.0021],[16.71,0.0028],[16.76,0.0034],[16.81,0.0036],[16.86,0.0035],[16.91,0.0027],[16.97,0.0009],[17.02,-0.0008],[17.07,-0.0011],[17.12,-0.0013],[17.17,-0.0011],[17.23,-0.0005],[17.28,0.0007],[17.33,0.0021],[17.38,0.0028],[17.43,0.0031],[17.49,0.0032],[17.54,0.0030],[17.59,0.0027],[17.64,0.0027],[17.69,0.0017],[17.75,0.0013],[17.80,0.0009],[17.85,0.0007],[17.90,0.0006],[17.95,0.0005],[18.01,0.0003],[18.06,0.0002],[18.11,-0.0002],[18.16,-0.0005],[18.21,-0.0011],[18.26,-0.0016],[18.32,-0.0015],[18.37,-0.0008],[18.42,0.0006],[18.47,0.0021],[18.52,0.0032],[18.58,0.0038],[18.63,0.0035],[18.68,0.0027],[18.73,0.0018],[18.78,0.0011],[18.84,0.0006],[18.89,-0.0005],[18.94,-0.0016],[18.99,-0.0022],[19.04,-0.0025],[19.10,-0.0023],[19.15,-0.0020],[19.20,-0.0016],[19.25,-0.0012],[19.30,-0.0005],[19.35,0.0000],[19.41,0.0002],[19.46,0.0000],[19.51,-0.0008],[19.56,-0.0016],[19.61,-0.0018],[19.67,-0.0012],[19.72,-0.0008],[19.77,-0.0011],[19.82,-0.0016],[19.87,-0.0022],[19.92,-0.0026],[19.97,-0.0022],[20.02,-0.0013]];

const dispLate = [[20.12,-0.0012],[20.22,-0.0002],[20.31,0.0004],[20.43,0.0002],[20.55,-0.0002],[20.65,-0.0012],[20.74,-0.0020],[20.81,-0.0022],[20.91,-0.0015],[21.00,-0.0007],[21.10,-0.0002],[21.20,-0.0006],[21.29,-0.0008],[21.39,-0.0005],[21.48,-0.0009],[21.58,-0.0002],[21.65,0.0007],[21.72,0.0011],[21.79,0.0000],[21.89,-0.0015],[21.99,-0.0020],[22.06,-0.0018],[22.15,-0.0008],[22.25,0.0002],[22.32,0.0004],[22.42,0.0007],[22.51,0.0011],[22.61,0.0010],[22.68,0.0003],[22.78,-0.0008],[22.87,-0.0015],[22.94,-0.0011],[23.01,-0.0004],[23.11,0.0003],[23.21,0.0008],[23.30,0.0010],[23.40,0.0011],[23.49,0.0010],[23.56,0.0006],[23.64,0.0005],[23.71,0.0007],[23.78,0.0010],[23.85,0.0012],[23.92,0.0006],[24.00,-0.0004],[24.09,-0.0012],[24.16,-0.0015],[24.26,-0.0011],[24.35,-0.0002],[24.45,0.0011],[24.55,0.0025],[24.64,0.0032],[24.71,0.0033],[24.78,0.0025],[24.88,0.0006],[24.98,-0.0003],[25.07,-0.0001],[25.17,0.0005],[25.26,0.0007],[25.36,0.0011],[25.45,0.0011],[25.55,0.0009],[25.65,0.0007],[25.74,0.0002],[25.84,0.0006],[25.93,0.0014],[26.03,0.0019],[26.12,0.0017],[26.22,0.0011],[26.32,0.0006],[26.39,-0.0001],[26.48,0.0005],[26.58,0.0009],[26.67,0.0011],[26.77,0.0006],[26.87,-0.0004],[26.96,-0.0012],[27.03,-0.0014],[27.13,-0.0011],[27.22,-0.0007],[27.32,-0.0006],[27.42,-0.0004],[27.51,-0.0001],[27.61,-0.0002],[27.70,-0.0004],[27.80,-0.0002],[27.89,0.0001],[27.99,-0.0004],[28.09,-0.0012],[28.18,-0.0023],[28.25,-0.0027],[28.33,-0.0020],[28.40,-0.0008],[28.49,0.0003],[28.56,0.0005],[28.64,-0.0001],[28.73,-0.0012],[28.83,-0.0019],[28.92,-0.0025],[29.00,-0.0023],[29.09,-0.0013],[29.19,-0.0008],[29.28,-0.0004],[29.38,-0.0006],[29.47,-0.0008],[29.57,-0.0008],[29.67,-0.0001],[29.74,0.0006],[29.81,0.0010],[29.88,0.0007],[29.95,0.0002],[30.02,-0.0007],[30.12,-0.0009],[30.22,-0.0010],[30.31,-0.0013],[30.41,-0.0009],[30.50,-0.0004],[30.60,0.0002],[30.69,0.0006],[30.79,0.0007],[30.86,0.0005],[30.96,-0.0002],[31.05,-0.0005],[31.15,-0.0002],[31.24,0.0005],[31.31,0.0007],[31.39,0.0003],[31.48,-0.0007],[31.58,-0.0013],[31.65,-0.0011],[31.75,-0.0004],[31.84,0.0002],[31.94,0.0005],[32.03,0.0006],[32.13,0.0005],[32.22,0.0006],[32.32,0.0004],[32.39,0.0009],[32.46,0.0016],[32.56,0.0021],[32.63,0.0020],[32.70,0.0017],[32.78,0.0013],[32.87,0.0011],[32.97,0.0014],[33.06,0.0016],[33.16,0.0014],[33.25,0.0012],[33.35,0.0013],[33.44,0.0012],[33.54,0.0015],[33.64,0.0017],[33.73,0.0019],[33.83,0.0021],[33.92,0.0019],[34.02,0.0016],[34.11,0.0011],[34.21,0.0009],[34.31,0.0011],[34.40,0.0010],[34.50,0.0011],[34.59,0.0012],[34.67,0.0011],[34.74,0.0007],[34.81,0.0000],[34.90,-0.0004],[35.00,-0.0006],[35.10,-0.0007],[35.19,-0.0005],[35.29,-0.0004],[35.38,-0.0001],[35.48,0.0000],[35.57,0.0005],[35.65,0.0006],[35.72,0.0003],[35.81,-0.0005],[35.91,-0.0009],[36.00,-0.0014],[36.09,-0.0016],[36.19,-0.0013],[36.28,-0.0012],[36.38,-0.0013],[36.48,-0.0016],[36.57,-0.0018],[36.67,-0.0016],[36.77,-0.0008],[36.86,-0.0004],[36.96,-0.0008],[37.06,-0.0011],[37.15,-0.0008],[37.25,-0.0002],[37.34,-0.0005],[37.44,-0.0012],[37.54,-0.0018],[37.63,-0.0022],[37.73,-0.0023],[37.82,-0.0020],[37.92,-0.0018],[38.01,-0.0015],[38.11,-0.0012],[38.21,-0.0013],[38.30,-0.0014],[38.40,-0.0014],[38.49,-0.0011],[38.59,-0.0007],[38.68,-0.0004],[38.78,-0.0002],[38.88,-0.0002],[38.97,-0.0002],[39.07,-0.0004],[39.16,-0.0003],[39.26,-0.0005],[39.36,-0.0007],[39.45,-0.0005],[39.55,-0.0003],[39.64,-0.0004],[39.74,-0.0004],[39.83,-0.0003],[39.93,-0.0001],[40.02,0.0003],[40.12,0.0007],[40.19,0.0008],[40.26,0.0006],[40.36,0.0002],[40.45,-0.0002],[40.53,0.0000],[40.60,0.0005],[40.69,0.0009],[40.79,0.0014],[40.88,0.0016],[40.98,0.0013],[41.08,0.0011],[41.17,0.0014],[41.27,0.0017],[41.36,0.0020],[41.46,0.0017],[41.56,0.0016],[41.65,0.0014],[41.75,0.0015],[41.85,0.0018],[41.94,0.0020],[42.03,0.0023],[42.13,0.0024],[42.23,0.0021],[42.32,0.0019],[42.42,0.0017],[42.51,0.0014],[42.61,0.0011],[42.70,0.0010],[42.80,0.0007],[42.90,0.0002],[42.99,0.0001],[43.09,0.0005],[43.18,0.0007],[43.28,0.0009],[43.37,0.0008],[43.47,0.0005],[43.56,-0.0001],[43.66,-0.0007],[43.76,-0.0011],[43.85,-0.0011],[43.95,-0.0007],[44.04,-0.0001],[44.14,0.0001],[44.23,-0.0002],[44.33,-0.0008],[44.42,-0.0010],[44.52,-0.0009],[44.62,-0.0008],[44.71,-0.0007],[44.81,-0.0006],[44.90,-0.0007],[45.00,-0.0005],[45.10,-0.0004],[45.19,-0.0004],[45.29,-0.0006],[45.39,-0.0008],[45.48,-0.0011],[45.58,-0.0013],[45.67,-0.0016],[45.77,-0.0015],[45.86,-0.0014],[45.96,-0.0013],[46.05,-0.0013],[46.15,-0.0010],[46.24,-0.0008],[46.34,-0.0009],[46.43,-0.0012],[46.53,-0.0011],[46.63,-0.0008],[46.72,-0.0005],[46.82,-0.0004],[46.92,-0.0005],[47.01,-0.0008],[47.11,-0.0011],[47.20,-0.0009],[47.30,-0.0007],[47.39,-0.0004],[47.49,-0.0001],[47.58,0.0001],[47.68,-0.0002],[47.78,-0.0005],[47.87,-0.0005],[47.97,-0.0004],[48.06,-0.0002],[48.16,0.0001],[48.25,0.0005],[48.35,0.0007],[48.44,0.0007],[48.54,0.0007],[48.64,0.0008],[48.73,0.0007],[48.83,0.0008],[48.92,0.0009],[49.02,0.0007],[49.11,0.0009],[49.21,0.0006],[49.31,0.0005],[49.40,0.0003],[49.50,0.0005],[49.59,0.0007],[49.69,0.0009],[49.78,0.0011],[49.88,0.0010],[49.98,0.0007],[50.07,0.0004],[50.17,0.0002],[50.26,0.0001],[50.36,0.0005],[50.45,0.0010],[50.55,0.0016],[50.65,0.0018],[50.74,0.0019],[50.84,0.0016],[50.93,0.0010],[51.03,0.0003],[51.12,-0.0001],[51.22,-0.0004],[51.32,-0.0002],[51.41,0.0000],[51.51,0.0000],[51.60,-0.0002],[51.70,-0.0005],[51.79,-0.0008],[51.89,-0.0007],[51.99,-0.0002],[52.08,0.0002],[52.18,0.0005],[52.27,0.0002],[52.37,-0.0002],[52.46,-0.0004],[52.56,-0.0003],[52.66,-0.0002],[52.75,0.0000],[52.85,0.0001],[52.94,0.0000],[53.04,-0.0002],[53.13,-0.0006],[53.23,-0.0010],[53.33,-0.0013],[53.42,-0.0012],[53.52,-0.0011],[53.61,-0.0009],[53.71,-0.0008],[53.80,-0.0008],[53.90,-0.0007],[54.00,-0.0006],[54.09,-0.0006],[54.19,-0.0008],[54.28,-0.0012],[54.38,-0.0014],[54.47,-0.0009],[54.57,-0.0004],[54.67,-0.0001],[54.76,0.0002],[54.86,0.0004],[54.95,0.0005],[55.05,0.0003],[55.14,0.0002],[55.24,0.0004],[55.33,0.0006],[55.43,0.0008],[55.53,0.0009],[55.62,0.0009],[55.72,0.0007],[55.81,0.0006],[55.91,0.0007],[56.01,0.0005],[56.10,0.0007],[56.20,0.0009],[56.29,0.0011],[56.39,0.0011],[56.48,0.0010],[56.58,0.0008],[56.67,0.0007],[56.77,0.0008],[56.87,0.0007],[56.94,0.0007]];

// ---------------- DRAWING ----------------
const accel = accelBurst.concat(accelCoda, accelTail.map((v, i) => [accelTailStart + i * accelTailStep, v]));
const vel = velEarly.concat(velMid, velLate);
const disp = dispEarly.concat(dispLate);

const W = 3600, L = 303, R = 3551, H = 581;
const tops = [82.3, 856.7, 1631];
const FONT = "DejaVu Sans, Liberation Sans, sans-serif";
const TICK = 14.6, PAD = 15, LW = 3.33;

const svg = d3.select("#chart");
svg.append("rect").attr("width", W).attr("height", 2400).attr("fill", "#ffffff");
const x = d3.scaleLinear().domain([0, timeMax]).range([L, R]);

const panels = [
  {data: accel, lim: limits[0], ticks: accelTicks, fmt: d3.format("d"), color: "#000000", label: yLabels[0], labelX: 181},
  {data: vel, lim: limits[1], ticks: velTicks, fmt: d3.format(".2f"), color: "#0000ff", label: yLabels[1], labelX: 114},
  {data: disp, lim: limits[2], ticks: dispTicks, fmt: d3.format(".3f"), color: "#ff0000", label: yLabels[2], labelX: 88}
];

const defs = svg.append("defs");
panels.forEach((p, i) => {
  const top = tops[i];
  const y = d3.scaleLinear().domain([-p.lim, p.lim]).range([top + H, top]);
  const g = svg.append("g");
  defs.append("clipPath").attr("id", "clip" + i)
    .append("rect").attr("x", L).attr("y", top).attr("width", R - L).attr("height", H);

  g.selectAll("line.gx").data(timeTicks).join("line").attr("class", "gx")
    .attr("x1", d => x(d)).attr("x2", d => x(d)).attr("y1", top).attr("y2", top + H)
    .attr("stroke", "#b0b0b0").attr("stroke-width", LW);
  g.selectAll("line.gy").data(p.ticks).join("line").attr("class", "gy")
    .attr("x1", L).attr("x2", R).attr("y1", d => y(d)).attr("y2", d => y(d))
    .attr("stroke", "#b0b0b0").attr("stroke-width", LW);

  g.append("path").datum(p.data)
    .attr("clip-path", `url(#clip${i})`)
    .attr("fill", "none").attr("stroke", p.color).attr("stroke-width", 6.25)
    .attr("stroke-linejoin", "round").attr("stroke-linecap", "square")
    .attr("d", d3.line().x(d => x(d[0])).y(d => y(d[1])));

  g.append("rect").attr("x", L).attr("y", top).attr("width", R - L).attr("height", H)
    .attr("fill", "none").attr("stroke", "#000").attr("stroke-width", LW);

  const gx = svg.append("g").attr("transform", `translate(0,${top + H})`)
    .call(d3.axisBottom(x).tickValues(timeTicks).tickFormat(d3.format("d")).tickSize(TICK).tickPadding(PAD));
  const gy = svg.append("g").attr("transform", `translate(${L},0)`)
    .call(d3.axisLeft(y).tickValues(p.ticks).tickFormat(p.fmt).tickSize(TICK).tickPadding(PAD));
  [gx, gy].forEach(a => {
    a.select(".domain").remove();
    a.attr("font-size", 41.67).attr("font-family", FONT);
    a.selectAll("line").attr("stroke", "#000").attr("stroke-width", LW);
    a.selectAll("text").attr("fill", "#000");
  });

  svg.append("text").attr("x", (L + R) / 2).attr("y", top + H + 131.7)
    .attr("text-anchor", "middle").attr("font-size", 58.33).attr("font-family", FONT)
    .attr("fill", "#000").text(xLabel);
  svg.append("text").attr("transform", `translate(${p.labelX},${top + H / 2}) rotate(-90)`)
    .attr("text-anchor", "middle").attr("font-size", 58.33).attr("font-family", FONT)
    .attr("fill", "#000").text(p.label);
});
</script>
</body></html>
